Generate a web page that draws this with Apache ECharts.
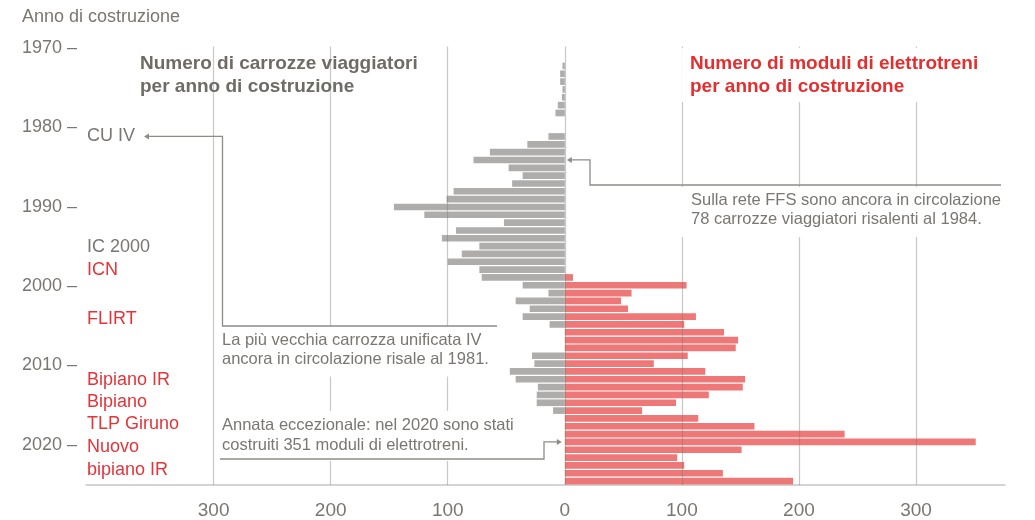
<!DOCTYPE html>
<html><head><meta charset="utf-8">
<script src="https://cdn.jsdelivr.net/npm/echarts@6/dist/echarts.min.js"></script>
<style>html,body{margin:0;padding:0;background:#fff}#c{width:1035px;height:520px}</style>
</head><body><div id="c"></div>
<script>
// ---- data ----
const years = ['1970','1971','1972','1973','1974','1975','1976','1977','1978','1979',
  '1980','1981','1982','1983','1984','1985','1986','1987','1988','1989',
  '1990','1991','1992','1993','1994','1995','1996','1997','1998','1999',
  '2000','2001','2002','2003','2004','2005','2006','2007','2008','2009',
  '2010','2011','2012','2013','2014','2015','2016','2017','2018','2019',
  '2020','2021','2022','2023','2024','2025'];
const carrozze = [0,0,2,4,4,2,2.5,6,8,0,
  0,14,32,64,78,48,36,45,95,101,
  146,120,52,93,105,73,88,100,73,71,
  36,14,42,30,36,13,0,0,0,28,
  26,47,42,23,24,24,10,0,0,0,
  0,0,0,0,0,0];
const moduli = [0,0,0,0,0,0,0,0,0,0,
  0,0,0,0,0,0,0,0,0,0,
  0,0,0,0,0,0,0,0,0,7,
  104,57,48,54,112,102,136,148,146,105,
  76,120,154,152,123,95,66,114,162,239,
  351,151,96,102,135,195];
const xTickValues = [-300,-200,-100,0,100,200,300];
const yTickValues = [1970,1980,1990,2000,2010,2020];

const GREY_TXT = '#7a7671';
const RED_TXT = '#e4343a';
const FONT = '"Liberation Sans", Arial, sans-serif';

const chart = echarts.init(document.getElementById('c'));
chart.setOption({
  animation: false,
  backgroundColor: '#fff',
  grid: { left: 86, right: 30, top: 46.4, bottom: 33.5, containLabel: false },
  xAxis: {
    type: 'value', min: -409, max: 376,
    axisLine: { show: true, lineStyle: { color: '#c6c6c6', width: 1.5 } },
    axisTick: { show: false, customValues: xTickValues },
    splitLine: { show: false },
    axisLabel: { customValues: xTickValues, formatter: v => String(Math.abs(v)),
      color: GREY_TXT, fontSize: 19, fontFamily: FONT, margin: 16 }
  },
  yAxis: [
    { type: 'category', data: years, inverse: true,
      axisLine: { show: false }, axisTick: { show: false }, splitLine: { show: false },
      axisLabel: { show: false } },
    // label axis for the decade ticks (positions as printed in the source)
    { type: 'value', inverse: true, min: 1969.8, max: 2025.09, position: 'left',
      axisLine: { show: false }, axisTick: { show: false, customValues: yTickValues }, splitLine: { show: false },
      axisLabel: { customValues: yTickValues, formatter: v => v + ' \u2013',
        color: GREY_TXT, fontSize: 18, fontFamily: FONT, margin: 9 } }
  ],
  series: [
    { name: 'carrozze', type: 'bar', yAxisIndex: 0, data: carrozze.map(v => -v), barGap: '-100%', barCategoryGap: '15%',
      itemStyle: { color: '#afadab' }, silent: true },
    { name: 'moduli', type: 'bar', yAxisIndex: 0, data: moduli, barGap: '-100%', barCategoryGap: '15%',
      itemStyle: { color: '#ee7877' }, silent: true,
      markLine: { silent: true, symbol: 'none', z: 6, label: { show: false },
        lineStyle: { color: 'rgba(120,118,116,0.4)', width: 1.2, type: 'solid' },
        data: xTickValues.map(v => ({ xAxis: v })) } }
  ]
});

function py(y) { return chart.convertToPixel({ xAxisIndex: 0, yAxisIndex: 0 }, [0, years.indexOf(y)])[1]; }
function px(x) { return chart.convertToPixel({ xAxisIndex: 0, yAxisIndex: 0 }, [x, 0])[0]; }
const y81 = py('1981'), y84 = py('1984'), y20 = py('2020');
const x0 = px(0);
const LINE = { stroke: '#8f8c88', lineWidth: 1.3, fill: null };
const ARROW = '#8f8c88';

function txt(text, x, y, opts) {
  return Object.assign({ type: 'text', z: 100, style: Object.assign({
    text, x, y, font: '18px ' + FONT, fill: GREY_TXT, textVerticalAlign: 'middle' }, opts || {}) });
}

const g = [];
g.push(txt('Anno di costruzione', 22, 17, { font: '18px ' + FONT }));
// headers
g.push(txt('Numero di carrozze viaggiatori\nper anno di costruzione', 140, 52,
  { font: 'bold 19px ' + FONT, fill: '#6f6b66', lineHeight: 23, textVerticalAlign: 'top' }));
g.push(txt('Numero di moduli di elettrotreni\nper anno di costruzione', 682, 48,
  { font: 'bold 19px ' + FONT, fill: '#e52e2e', lineHeight: 23, textVerticalAlign: 'top',
    backgroundColor: '#fff', padding: [4, 8, 4, 8] }));
// model labels
g.push(txt('CU IV', 87, y81));
g.push(txt('IC 2000', 87, 247));
g.push(txt('ICN', 87, 270, { fill: RED_TXT }));
g.push(txt('FLIRT', 87, 319, { fill: RED_TXT }));
g.push(txt('Bipiano IR', 87, 380, { fill: RED_TXT }));
g.push(txt('Bipiano', 87, 402, { fill: RED_TXT }));
g.push(txt('TLP Giruno', 87, 424, { fill: RED_TXT }));
g.push(txt('Nuovo', 87, 447, { fill: RED_TXT }));
g.push(txt('bipiano IR', 87, 470, { fill: RED_TXT }));

// annotation boxes
const AF = '16.5px ' + FONT;
g.push(txt('Sulla rete FFS sono ancora in circolazione\n78 carrozze viaggiatori risalenti al 1984.', 680, 187,
  { font: AF, lineHeight: 19, textVerticalAlign: 'top', backgroundColor: '#fff', padding: [4, 6, 8, 11] }));
g.push(txt('La più vecchia carrozza unificata IV\nancora in circolazione risale al 1981.', 216, 326.5,
  { font: AF, lineHeight: 19, textVerticalAlign: 'top', backgroundColor: '#fff', padding: [4, 6, 8, 6] }));
g.push(txt('Annata eccezionale: nel 2020 sono stati\ncostruiti 351 moduli di elettrotreni.', 216, 411,
  { font: AF, lineHeight: 20, textVerticalAlign: 'top', backgroundColor: '#fff', padding: [4, 6, 6, 6] }));

// connectors
g.push({ type: 'polyline', z: 110, shape: { points: [[148, y81], [222.5, y81], [222.5, 326], [497, 326]] }, style: LINE });
g.push({ type: 'polygon', z: 110, shape: { points: [[144, y81], [149, y81 - 3], [149, y81 + 3]] }, style: { fill: ARROW } });
g.push({ type: 'polyline', z: 110, shape: { points: [[x0 + 5, y84], [590, y84], [590, 185], [1001, 185]] }, style: LINE });
g.push({ type: 'polygon', z: 110, shape: { points: [[x0 + 2, y84], [x0 + 7, y84 - 3], [x0 + 7, y84 + 3]] }, style: { fill: ARROW } });
g.push({ type: 'polyline', z: 110, shape: { points: [[220, 459], [544, 459], [544, y20], [x0 - 6, y20]] }, style: LINE });
g.push({ type: 'polygon', z: 110, shape: { points: [[x0 - 3, y20], [x0 - 8, y20 - 3], [x0 - 8, y20 + 3]] }, style: { fill: ARROW } });

chart.setOption({ graphic: { elements: g } });
</script></body></html>
